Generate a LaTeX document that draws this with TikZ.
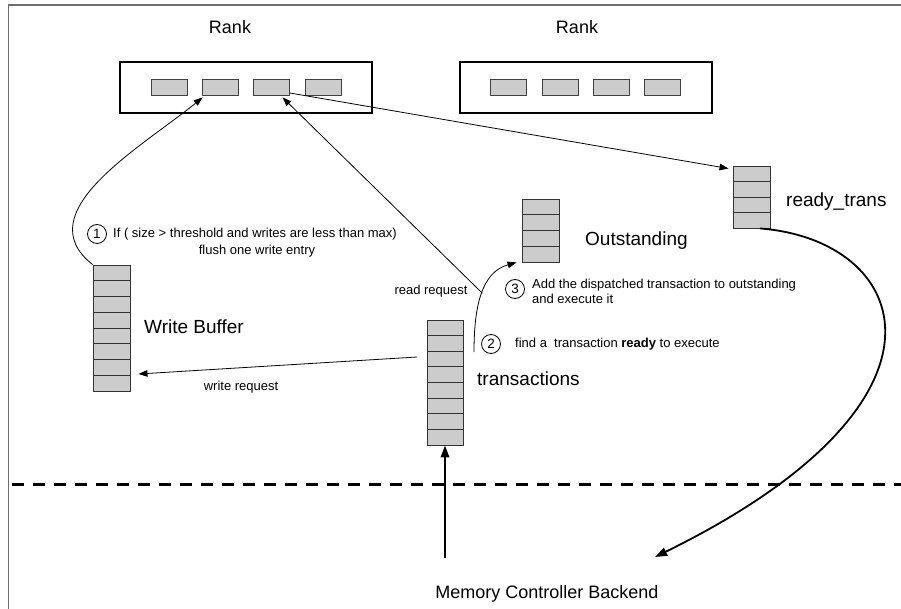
\documentclass[tikz,border=0pt]{standalone}
\usepackage{fontspec}
\setmainfont{Liberation Sans}
\usetikzlibrary{arrows.meta}
\definecolor{cellgray}{HTML}{CCCCCC}
\definecolor{framegray}{HTML}{6E6E6E}
\tikzset{
  frameline/.style={draw=framegray, line width=1.6pt},
  rankbox/.style={draw=black, line width=2.6pt, minimum width=252pt, minimum height=51pt, inner sep=0pt},
  rcell/.style={draw=black!75, fill=cellgray, line width=0.8pt, minimum width=36pt, minimum height=16pt, inner sep=0pt},
  qbox/.style={draw=black!80, fill=cellgray, line width=0.9pt, minimum width=37pt, inner sep=0pt},
  qline/.style={draw=black!80, line width=0.9pt},
  big/.style={font=\fontsize{19}{22}\selectfont, inner sep=0pt},
  small/.style={font=\fontsize{13}{15}\selectfont, inner sep=0pt},
  numcirc/.style={draw=black, circle, line width=0.8pt, minimum size=19pt, inner sep=0pt, font=\fontsize{13.5}{15}\selectfont},
  thinarr/.style={draw=black, line width=0.8pt, -{Triangle[length=9pt,width=6.5pt]}},
  thickarr/.style={draw=black, line width=1.8pt, -{Triangle[length=12pt,width=8.5pt]}},
}
\begin{document}
\begin{tikzpicture}[x=1pt,y=-1pt]
\useasboundingbox (0,0) rectangle (901,609);
% frame
\draw[frameline] (8.5,609) -- (8.5,5) -- (901,5);

% rank labels
\node[big, font=\fontsize{18}{21}\selectfont] (rk1) at (230,27) {Rank};
\node[big, font=\fontsize{18}{21}\selectfont] (rk2) at (577,27) {Rank};

% rank boxes
\node[rankbox] (rank1) at (246,87.5) {};
\node[rankbox] (rank2) at (586,87.5) {};
\node[rcell] (r1c1) at (169,87) {};
\node[rcell] (r1c2) at (220,87) {};
\node[rcell] (r1c3) at (271.5,87) {};
\node[rcell] (r1c4) at (323,87) {};
\node[rcell] (r2c1) at (508.5,87) {};
\node[rcell] (r2c2) at (560,87) {};
\node[rcell] (r2c3) at (611.5,87) {};
\node[rcell] (r2c4) at (662.5,87) {};

% queues
\node[qbox, minimum height=126pt] (wb) at (111.5,328) {};
\foreach \i in {1,...,7} \draw[qline] (93,265+\i*15.75) -- (130,265+\i*15.75);
\node[qbox, minimum height=125pt, minimum width=36pt] (tr) at (445,382.5) {};
\foreach \i in {1,...,7} \draw[qline] (427,320+\i*15.625) -- (463,320+\i*15.625);
\node[qbox, minimum height=63pt] (out) at (540.5,230.5) {};
\foreach \i in {1,...,3} \draw[qline] (522,199+\i*15.75) -- (559,199+\i*15.75);
\node[qbox, minimum height=62pt] (rt) at (751.5,197) {};
\foreach \i in {1,...,3} \draw[qline] (733,166+\i*15.5) -- (770,166+\i*15.5);

% queue labels
\node[big, anchor=west] (wbl) at (144,327) {Write Buffer};
\node[big, anchor=west] (trl) at (477,379) {transactions};
\node[big, anchor=west] (outl) at (585,241) {Outstanding};
\node[big, anchor=west] (rtl) at (786,202) {ready\_trans};

% step annotations
\node[numcirc] (n1) at (97,234) {1};
\node[small, anchor=west] (t1a) at (113,234) {If ( size > threshold and writes are less than max)};
\node[small] (t1b) at (257,251) {flush one write entry};
\node[numcirc] (n2) at (491,344) {2};
\node[small, anchor=west] (t2) at (515,344) {find a\ \ transaction \textbf{ready} to execute};
\node[numcirc] (n3) at (515,289) {3};
\node[small, anchor=west] (t3a) at (532,285) {Add the dispatched transaction to outstanding};
\node[small, anchor=west] (t3b) at (532,299) {and execute it};
\node[small] (rrl) at (431,291) {read request};
\node[small] (wrl) at (241,387) {write request};

% dashed separator
\draw[draw=black, line width=3pt, dash pattern=on 12pt off 9pt] (12,484) -- (901,484);
\node[big, font=\fontsize{18}{21}\selectfont] (mcb) at (547,594) {Memory Controller Backend};

% connectors
\coordinate (c2s) at (474,352);
\coordinate (wrs) at (417,357);
\coordinate (ups) at (445,558);
\coordinate (mct) at (655,557);

\draw[thinarr] (wb.north west) .. controls (26,212) and (142,147) .. ([xshift=1pt,yshift=-2pt]r1c2.south west);
\draw[thinarr] (c2s) .. controls (474,305) and (482,272) .. ([xshift=-5pt]out.south west) coordinate[pos=0.5] (rr);
\draw[thinarr] (rr) -- ([xshift=11pt,yshift=-2pt]r1c3.south);
\draw[thinarr] ([yshift=-6pt]r1c3.east) -- ([xshift=-4pt,yshift=-3pt]rt.north west);
\draw[thinarr] (wrs) -- ([xshift=8pt,yshift=-46pt]wb.east);
\draw[thickarr] (ups) -- (tr.south);
\draw[thickarr] ([xshift=8.5pt]rt.south) .. controls (910,240) and (975,400) .. (mct);
\end{tikzpicture}
\end{document}
